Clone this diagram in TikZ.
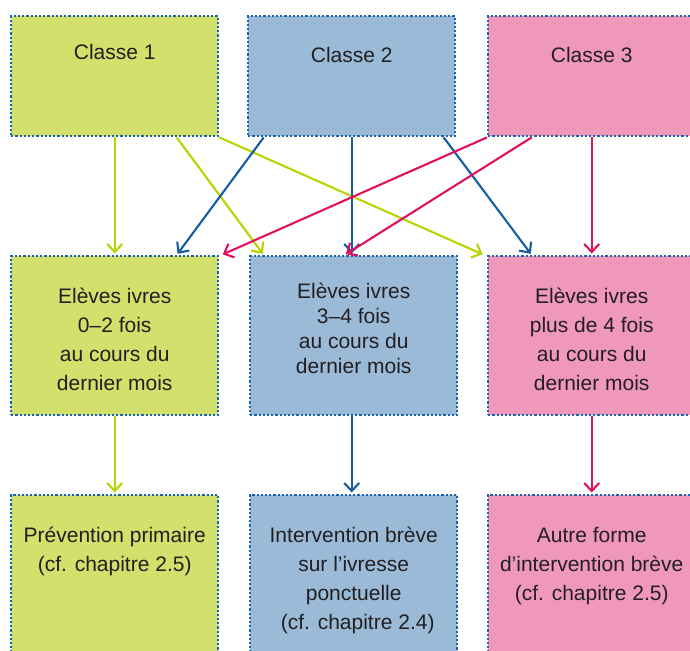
\documentclass[tikz,border=0pt]{standalone}
\usepackage{fontspec}
\setmainfont{Liberation Sans}
\usepackage{tikz}
\usetikzlibrary{positioning,arrows.meta}

\definecolor{boxgreen}{HTML}{D2E06C}
\definecolor{boxblue}{HTML}{9ABAD8}
\definecolor{boxpink}{HTML}{EF98BB}
\definecolor{linegreen}{HTML}{B9D300}
\definecolor{lineblue}{HTML}{155DA0}
\definecolor{linepink}{HTML}{E1105E}
\definecolor{dotblue}{HTML}{1A63AE}
\definecolor{inkdark}{HTML}{231F20}

\begin{document}
\begin{tikzpicture}[x=1pt,y=-1pt]
		% Styles for boxes, texts and arrows
		\tikzset{
			panel/.style={draw=dotblue, line width=2.4pt, dash pattern=on 2.2pt off 2pt,
				minimum width=207pt, inner sep=0pt, anchor=north west},
			txt/.style={inner sep=0pt, align=center, text=inkdark,
				font=\fontsize{21}{29}\selectfont},
			link/.style={line width=2.1pt, -{Straight Barb[length=8pt,width=15pt]}, shorten >=1.5pt}
		}
		\useasboundingbox (0,0) rectangle (690,650);
		
		% Top row
		\node[panel, fill=boxgreen, minimum height=120pt] (c1) at (10,15) {};
		\node[panel, fill=boxblue, minimum height=120pt] (c2) at (247,15) {};
		\node[panel, fill=boxpink, minimum height=120pt] (c3) at (487,15) {};
		\node[txt, below=29pt of c1.north] (c1t) {Classe 1};
		\node[txt, below=32pt of c2.north] (c2t) {Classe 2};
		\node[txt, below=32pt of c3.north] (c3t) {Classe 3};
		
		% Middle row
		\node[panel, fill=boxgreen, minimum height=159pt] (m1) at (10,255) {};
		\node[panel, fill=boxblue, minimum height=159pt] (m2) at (249,255) {};
		\node[panel, fill=boxpink, minimum height=159pt] (m3) at (487,255) {};
		\node[txt, below=33pt of m1.north] (m1t) {Elèves ivres\\0--2 fois\\au cours du\\dernier mois};
		\node[txt, below=28pt of m2.north, font=\fontsize{21}{25}\selectfont] (m2t) {Elèves ivres\\3--4 fois\\au cours du\\dernier mois};
		\node[txt, below=33pt of m3.north] (m3t) {Elèves ivres\\plus de 4 fois\\au cours du\\dernier mois};
		
		% Bottom row
		\node[panel, fill=boxgreen, minimum height=170pt] (b1) at (10,494) {};
		\node[panel, fill=boxblue, minimum height=170pt] (b2) at (249,494) {};
		\node[panel, fill=boxpink, minimum height=170pt] (b3) at (487,494) {};
		\node[txt, below=33pt of b1.north] (b1t) {Prévention primaire\\(cf. chapitre 2.5)};
		\node[txt, below=33pt of b2.north] (b2t) {Intervention brève\\sur l’ivresse\\ponctuelle\\\hspace{8pt}(cf. chapitre 2.4)};
		\node[txt, below=33pt of b3.north] (b3t) {Autre forme\\d’intervention brève\\(cf. chapitre 2.5)};
		
		% Arrows from Classe 1
		\draw[link, linegreen] (c1.south) -- (c1.south |- m1.north);
		\draw[link, linegreen] ([xshift=62pt]c1.south) -- ([xshift=-90pt]m2.north);
		\draw[link, linegreen] (c1.south east) -- ([xshift=-3pt]m3.north west);
		
		% Arrows from Classe 2
		\draw[link, lineblue] ([xshift=-88pt]c2.south) -- ([xshift=62pt]m1.north);
		\draw[link, lineblue] (c2.south) -- (c2.south |- m2.north);
		\draw[link, lineblue] ([xshift=92pt]c2.south) -- ([xshift=-60pt]m3.north);
		
		% Arrows from Classe 3
		\draw[link, linepink] (c3.south west) -- ([xshift=2pt]m1.north east);
		\draw[link, linepink] ([xshift=-60pt]c3.south) -- ([xshift=-9pt]m2.north);
		\draw[link, linepink] (c3.south) -- (c3.south |- m3.north);
		
		% Arrows to the interventions
		\draw[link, linegreen] (m1.south) -- (b1.north);
		\draw[link, lineblue] ([xshift=-2pt]m2.south) -- ([xshift=-2pt]b2.north);
		\draw[link, linepink] (m3.south) -- (b3.north);
	\end{tikzpicture}
\end{document}
